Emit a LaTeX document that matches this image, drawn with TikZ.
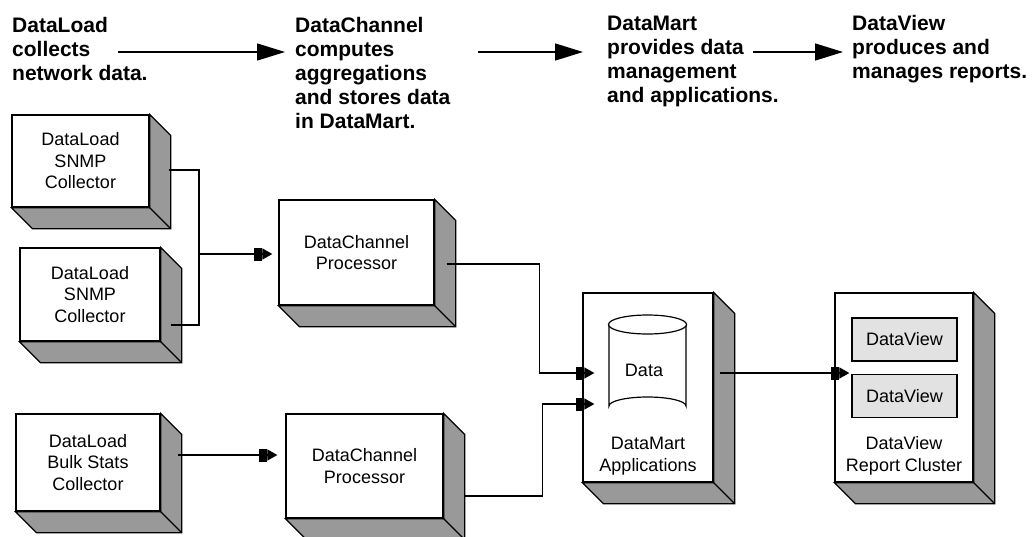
\documentclass[tikz,border=0pt]{standalone}
\usepackage{fontspec}
\setmainfont{Liberation Sans}
\usetikzlibrary{arrows.meta,calc}
\definecolor{facegray}{RGB}{153,153,153}
\definecolor{dvgray}{RGB}{226,226,226}
\newcommand{\boxfont}{\fontsize{18}{21.5}\selectfont}
\newcommand{\headfont}{\fontsize{21}{24}\selectfont\bfseries}
\tikzset{
  cube/.style={draw, line width=1.3pt, fill=white, inner sep=0pt, align=center, font=\boxfont,
    append after command={\pgfextra{\let\cubenode\tikzlastnode
      \filldraw[line width=1.3pt, fill=facegray, line join=miter]
        (\cubenode.north east) -- ++(21,21) -- ($(\cubenode.south east)+(21,21)$)
        -- ($(\cubenode.south west)+(21,21)$) -- (\cubenode.south west)
        -- (\cubenode.south east) -- cycle;
      \draw[line width=1.3pt] (\cubenode.south east) -- ++(21,21);
    }}},
  head/.style={anchor=north west, inner sep=0pt, align=left, font=\headfont},
  plain/.style={inner sep=0pt, align=center, font=\boxfont},
  dvbox/.style={draw, line width=1.3pt, fill=dvgray, inner sep=0pt, font=\boxfont,
    minimum width=105, minimum height=43},
  bigarr/.style={line width=1.5pt, -{Triangle[length=28pt,width=17pt]}},
  conn/.style={line width=1.2pt},
  arr/.style={conn, -{Rectangle[length=8pt,width=13pt,sep=0pt]Triangle[length=10pt,width=11pt]}}
}
\begin{document}
\begin{tikzpicture}[x=1pt,y=-1pt]
\useasboundingbox (0,0) rectangle (1035,536);

% header texts
\node[head] (t1) at (12,17.5) {DataLoad\\collects\\network data.};
\node[head] (t2) at (295,17.5) {DataChannel\\computes\\aggregations\\and stores data\\in DataMart.};
\node[head] (t3) at (607,15.5) {DataMart\\provides data\\management\\and applications.};
\node[head] (t4) at (852,15.5) {DataView\\produces and\\manages reports.};
\coordinate (a1s) at (118,52);
\coordinate (a1e) at (285,52);
\coordinate (a2s) at (478,52);
\coordinate (a2e) at (583,52);
\coordinate (a3s) at (753,52);
\coordinate (a3e) at (843,52);
\draw[bigarr] (a1s) -- (a1e);
\draw[bigarr] (a2s) -- (a2e);
\draw[bigarr] (a3s) -- (a3e);

% boxes
\node[cube, minimum width=137, minimum height=92] (L1) at (80.5,161) {DataLoad\\SNMP\\Collector};
\node[cube, minimum width=140, minimum height=93] (L2) at (90,294.5) {DataLoad\\SNMP\\Collector};
\node[cube, minimum width=144, minimum height=97] (L3) at (88,462.5) {DataLoad\\Bulk Stats\\Collector};
\node[cube, minimum width=155, minimum height=105] (DC1) at (356.5,252.5) {DataChannel\\Processor};
\node[cube, minimum width=157, minimum height=104] (DC2) at (364.5,466) {DataChannel\\Processor};
\node[cube, minimum width=130, minimum height=189] (DM) at (648,387.5) {};
\node[cube, minimum width=138, minimum height=189] (DV) at (904,387.5) {};

% cylinder in DataMart
\draw[line width=1.2pt, fill=white] (609,324.5) -- (609,406) arc (180:360:38.5 and 9) -- (686,324.5);
\draw[line width=1.2pt, fill=white] (647.5,324.5) ellipse (39 and 9.5);
\node[plain] (data) at (644,370) {Data};
\node[plain] (dmlab) at (648,456) {DataMart\\Applications};

% DataView inner
\node[dvbox] (dv1) at (904.5,339.5) {DataView};
\node[dvbox] (dv2) at (904.5,396) {DataView};
\node[plain] (dvlab) at (904,456) {DataView\\Report Cluster};

% connectors
\coordinate (j1) at (199,254);
\draw[conn] ($(L1.east)+(19,9)$) -| (j1);
\draw[conn] ($(L2.east)+(10,30.5)$) -| (j1);
\draw[arr] (j1) -- ($(j1 -| DC1.west)+(-6,0)$);
\draw[arr] ($(L3.east)+(17,-7.5)$) -- ($(DC2.west)+(-8,-11)$);
\draw[arr] ($(DC1.east)+(12,11.5)$) -| ($(DM.west)+(-43,-14.5)$) -- ($(DM.west)+(12,-14.5)$);
\draw[arr] ($(DC2.east)+(20,30)$) -| ($(DM.west)+(-40,16.5)$) -- ($(DM.west)+(12,16.5)$);
\draw[arr] ($(DM.east)+(6,-14.5)$) -- ($(DV.west)+(15,-14.5)$);
\end{tikzpicture}
\end{document}
